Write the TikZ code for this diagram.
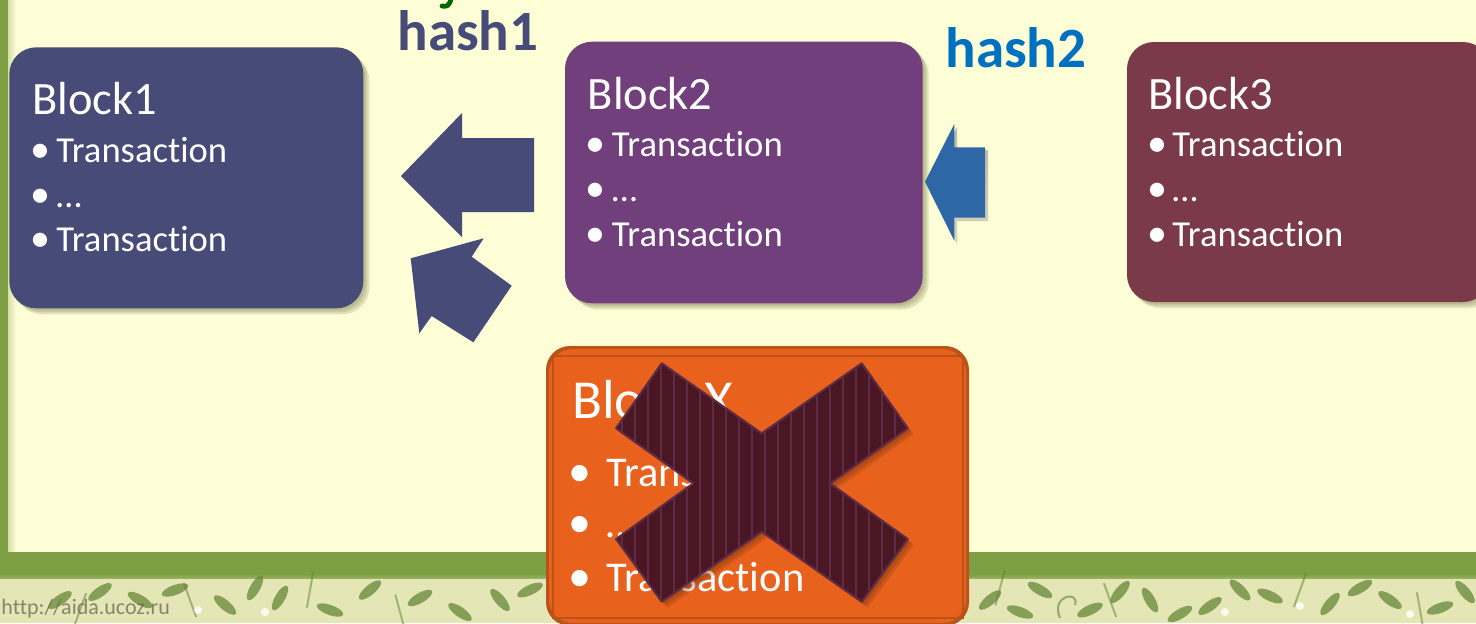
\documentclass[tikz,border=0pt]{standalone}
\usepackage{fontspec}
\setmainfont{Carlito}[Ligatures={NoCommon,NoContextual}]
\definecolor{paper}{HTML}{FDFDD6}
\definecolor{frame}{HTML}{7E9E44}
\definecolor{frameshine}{HTML}{D6DFA6}
\definecolor{floral}{HTML}{E4E6B6}
\definecolor{leaf}{HTML}{5F8230}
\definecolor{blockA}{HTML}{474B77}
\definecolor{blockB}{HTML}{713F7B}
\definecolor{blockC}{HTML}{7A3A4A}
\definecolor{blockX}{HTML}{E8621E}
\definecolor{blockXline}{HTML}{B9531A}
\definecolor{crossfill}{HTML}{4A1624}
\definecolor{crossline}{HTML}{5E2B44}
\definecolor{linkblue}{HTML}{2E67A6}
\definecolor{hashblue}{HTML}{0070C0}
\definecolor{shade}{HTML}{6B6A3A}
\definecolor{webgrey}{HTML}{6E6E58}
\tikzset{
  txt/.style={anchor=base west, inner sep=0pt, text=white},
  title/.style={txt, font=\fontsize{23.2}{27}\selectfont},
  item/.style={txt, font=\fontsize{18.3}{21}\selectfont},
  dot/.style={anchor=base, inner sep=0pt, text=white, font=\fontsize{20}{21}\selectfont},
  titleX/.style={txt, font=\fontsize{27.5}{32}\selectfont},
  itemX/.style={txt, font=\fontsize{21.2}{25}\selectfont},
  dotX/.style={anchor=base, inner sep=0pt, text=white, font=\fontsize{23}{25}\selectfont},
  hashlabel/.style={anchor=base west, inner sep=0pt, font=\bfseries\fontsize{28.5}{32}\selectfont},
  card/.style={rounded corners=13.5pt},
  softshadow/.style={fill=shade, opacity=0.18, rounded corners=13.5pt},
}
\begin{document}
\begin{tikzpicture}[x=0.5pt,y=-0.5pt]
\useasboundingbox (0,0) rectangle (1476,623);
\clip (0,0) rectangle (1476,623);

% slide background and frame
\fill[paper] (0,0) rectangle (1476,623);
\fill[frame] (0,0) rectangle (8,552);
\shade[left color=frameshine, right color=paper] (8,0) rectangle (16,552);
\fill[frame] (0,552) rectangle (1476,578);
\shade[top color=frame, bottom color=frame!70!paper] (0,574) rectangle (1476,580);
\fill[floral] (0,579) rectangle (1476,623);
% leafy border pattern
\foreach \x/\y/\a in {60/600/35,100/592/35,140/600/-30,175/590/20,225/605/-40,255/588/60,
                      280/598/60,330/610/-20,370/590/40,420/598/30,460/612/-35,500/600/-50,
                      530/590/25,990/600/40,1020/612/-20,1040/590/-30,1090/610/25,1120/592/50,
                      1150/600/-60,1180/614/30,1210/606/35,1240/590/-45,1270/596/-25,
                      1330/604/50,1360/588/30,1390/600/-35,1440/608/20,1465/592/-50}
  \fill[leaf, opacity=0.7, rotate around={\a:(\x,\y)}] (\x,\y) ellipse (14 and 5);
\foreach \x/\y/\a in {80/610/70,190/600/-70,310/590/80,400/612/-75,1000/588/75,1110/600/-70,
                      1300/590/70,1420/610/-80}
  \draw[leaf, opacity=0.5, line width=1pt, rotate around={\a:(\x,\y)}] (\x-18,\y) -- (\x+18,\y);
\foreach \x/\y in {198/610,265/612,1225/612,1300/606,1410/614}
  \fill[white, opacity=0.8] (\x,\y) circle (4);
\draw[leaf, line width=1pt, opacity=0.6] (1060,618) .. controls (1050,595) and (1080,590) .. (1075,605);
\node[anchor=base west, inner sep=0pt, text=webgrey, opacity=0.8,
      font=\fontsize{11}{13}\selectfont] (web) at (1,614) {http://aida.ucoz.ru};

% descender of a line set above the picture
\draw[green!40!black, line width=2.4pt, line cap=round]
  (451,-2) .. controls (450,6) and (446,7) .. (442,6);

% hash labels
\node[hashlabel, text=blockA] (hash1) at (397,50) {hash1};
\node[hashlabel, text=hashblue] (hash2) at (945,67) {hash2};

% block cards with soft shadows
\foreach \d in {2,4,6} {
  \fill[softshadow] (9.3+\d,47.3+\d) rectangle (363.3+\d,308.3+\d);
  \fill[softshadow] (565+\d,41.7+\d) rectangle (922.7+\d,303.3+\d);
  \fill[softshadow] (1127+\d,42+\d) rectangle (1490+\d,302+\d);
}
\fill[blockA, card] (9.3,47.3) rectangle (363.3,308.3);
\fill[blockB, card] (565,41.7) rectangle (922.7,303.3);
\fill[blockC, card] (1127,42) rectangle (1490,302);

% Block1
\node[title] (b1title) at (32,114) {Block1};
\node[dot] (b1d1) at (40,162.7) {•};
\node[item] (b1i1) at (56,162.7) {Transaction};
\node[dot] (b1d2) at (40,207.7) {•};
\node[item] (b1i2) at (56,207.7) {…};
\node[dot] (b1d3) at (40,251.7) {•};
\node[item] (b1i3) at (56,251.7) {Transaction};

% Block2
\node[title] (b2title) at (587.5,109) {Block2};
\node[dot] (b2d1) at (595,156.7) {•};
\node[item] (b2i1) at (611.5,156.7) {Transaction};
\node[dot] (b2d2) at (595,201.7) {•};
\node[item] (b2i2) at (611.5,201.7) {…};
\node[dot] (b2d3) at (595,246.7) {•};
\node[item] (b2i3) at (611.5,246.7) {Transaction};

% Block3
\node[title] (b3title) at (1148,109) {Block3};
\node[dot] (b3d1) at (1157,156.7) {•};
\node[item] (b3i1) at (1172,156.7) {Transaction};
\node[dot] (b3d2) at (1157,201.7) {•};
\node[item] (b3i2) at (1172,201.7) {…};
\node[dot] (b3d3) at (1157,246.7) {•};
\node[item] (b3i3) at (1172,246.7) {Transaction};

% block arrows pointing back to the parent block
\fill[blockA] (401,176) -- (462,113) -- (462,138) -- (534,138) -- (534,212)
  -- (462,212) -- (462,237) -- cycle;
\fill[blockA] (410.7,258.3) -- (483.7,238.3) -- (471.7,256.7) -- (511.7,285.7)
  -- (473.3,342.3) -- (431.7,316) -- (419.3,333.3) -- cycle;
\fill[shade, opacity=0.2] (928,185) -- (957,127) -- (957,150) -- (988,150) -- (988,221)
  -- (957,221) -- (957,244) -- cycle;
\fill[linkblue] (925,181.7) -- (954.3,124) -- (954.3,147.3) -- (985,147.3) -- (985,217.7)
  -- (954.3,217.7) -- (954.3,240.7) -- cycle;

% rejected Block X
\fill[blockXline, rounded corners=12pt] (546,346) rectangle (969,626);
\fill[blockX, rounded corners=12pt] (549,349) rectangle (966,623);
\draw[blockXline, line width=1.2pt] (553,356) -- (963,356) -- (963,618) -- (553,618) -- cycle;
\node[titleX] (bxtitle) at (572,418.3) {Block X};
\node[dotX] (bxd1) at (580,486.7) {•};
\node[itemX] (bxi1) at (606,486.7) {Transaction};
\node[dotX] (bxd2) at (580,537.5) {•};
\node[itemX] (bxi2) at (606,537.5) {…};
\node[dotX] (bxd3) at (580,591.7) {•};
\node[itemX] (bxi3) at (606,591.7) {Transaction};

% striped cross over Block X
\def\crosspath{(661.7,363.3) -- (761.7,433.3) -- (861.7,363.3) -- (907.7,428.3)
  -- (830,483.3) -- (907.7,539) -- (861.7,601.7) -- (761.7,531.7) -- (661.7,601.7)
  -- (616,539) -- (693.3,483.3) -- (616,428.3) -- cycle}
\foreach \d in {2,4,6} {
  \begin{scope}[shift={(\d,\d)}]
    \fill[black!70!blockX, opacity=0.15] \crosspath;
  \end{scope}
}
\fill[crossfill] \crosspath;
\begin{scope}
  \clip \crosspath;
  \foreach \x in {622,635,...,910}
    \draw[crossline, line width=0.7pt] (\x,355) -- (\x,610);
\end{scope}
\draw[crossline, line width=1pt, line join=round] \crosspath;
\end{tikzpicture}
\end{document}
